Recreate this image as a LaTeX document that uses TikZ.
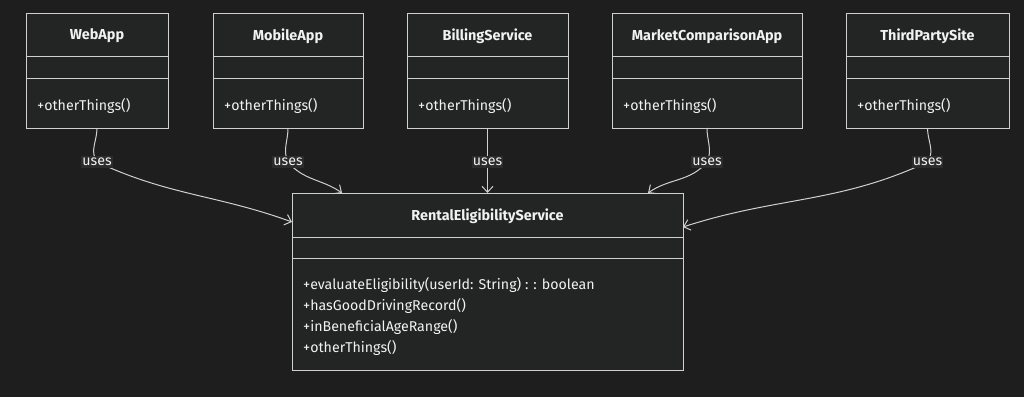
\documentclass[tikz,border=0pt]{standalone}
\usepackage{fontspec}
\setmainfont{Fira Sans}
\usepackage{tikz}
\usetikzlibrary{arrows.meta}
\definecolor{mybg}{HTML}{1E1E1E}
\definecolor{mybox}{HTML}{232525}
\definecolor{myline}{HTML}{D0D0D0}
\definecolor{mytext}{HTML}{F2F2F2}
\definecolor{mylabel}{HTML}{2C2C2C}
\tikzset{
  classbox/.style={draw=myline, fill=mybox, line width=1pt, inner sep=0pt, outer sep=0pt},
  classname/.style={text=mytext, font=\bfseries\fontsize{14.4}{17}\selectfont},
  member/.style={text=mytext, font=\fontsize{14.2}{17}\selectfont, anchor=west, inner sep=0pt},
  divider/.style={draw=myline, line width=1pt},
  uses/.style={draw=myline, line width=1pt, -{Straight Barb[length=6pt,width=11pt]}},
  useslabel/.style={fill=mylabel, text=mytext, font=\fontsize{14.2}{17}\selectfont, inner xsep=1pt, inner ysep=2.5pt}
}

\begin{document}
\begin{tikzpicture}
        \fill[mybg] (0pt,0pt) rectangle (1024pt,397pt);
        \useasboundingbox (0pt,0pt) rectangle (1024pt,397pt);
        % the five callers
        \foreach \name/\cx/\w/\title in {webapp/97/142/WebApp, mobileapp/288/150/MobileApp,
            billing/487.5/161/BillingService, market/707/190/MarketComparisonApp,
            thirdparty/927.5/163/ThirdPartySite}{
          \node[classbox, minimum width=\w pt, minimum height=114pt] (\name) at (\cx pt,326pt) {};
          \node[classname] at ([yshift=-22pt]\name.north) {\title};
          \draw[divider] ([yshift=-43pt]\name.north west) -- ([yshift=-43pt]\name.north east);
          \draw[divider] ([yshift=-65pt]\name.north west) -- ([yshift=-65pt]\name.north east);
          \node[member] at ([xshift=11pt,yshift=-92pt]\name.north west) {+otherThings()};
          \coordinate (\name-u) at ([yshift=-34pt]\name.south);
        }
        % the service
        \node[classbox, minimum width=391pt, minimum height=177pt] (rental) at (487.5pt,115.5pt) {};
        \node[classname] at ([yshift=-23pt]rental.north) {RentalEligibilityService};
        \draw[divider] ([yshift=-44pt]rental.north west) -- ([yshift=-44pt]rental.north east);
        \draw[divider] ([yshift=-65pt]rental.north west) -- ([yshift=-65pt]rental.north east);
        \node[member] at ([xshift=11pt,yshift=-92pt]rental.north west) {+evaluateEligibility(userId: String) : : boolean};
        \node[member] at ([xshift=11pt,yshift=-113pt]rental.north west) {+hasGoodDrivingRecord()};
        \node[member] at ([xshift=11pt,yshift=-134pt]rental.north west) {+inBeneficialAgeRange()};
        \node[member] at ([xshift=11pt,yshift=-155pt]rental.north west) {+otherThings()};
        \coordinate (webapp-tip) at ([yshift=-29pt]rental.north west);
        \coordinate (mobileapp-tip) at ([xshift=-145.5pt]rental.north);
        \coordinate (billing-tip) at (rental.north);
        \coordinate (market-tip) at ([xshift=160.5pt]rental.north);
        \coordinate (thirdparty-tip) at ([yshift=-34pt]rental.north east);
        % uses
        \draw[uses] (webapp.south) to[out=-90,in=125] (webapp-u) to[out=-25,in=160] (webapp-tip);
        \draw[uses] (mobileapp.south) to[out=-90,in=115] (mobileapp-u) to[out=-50,in=145] (mobileapp-tip);
        \draw[uses] (billing.south) -- (billing-u) -- (billing-tip);
        \draw[uses] (market.south) to[out=-90,in=65] (market-u) to[out=-130,in=35] (market-tip);
        \draw[uses] (thirdparty.south) to[out=-90,in=55] (thirdparty-u) to[out=-155,in=18] (thirdparty-tip);
        \foreach \name in {webapp,mobileapp,billing,market,thirdparty}{
          \node[useslabel] (\name-uses) at (\name-u) {uses};
        }
      \end{tikzpicture}
\end{document}
